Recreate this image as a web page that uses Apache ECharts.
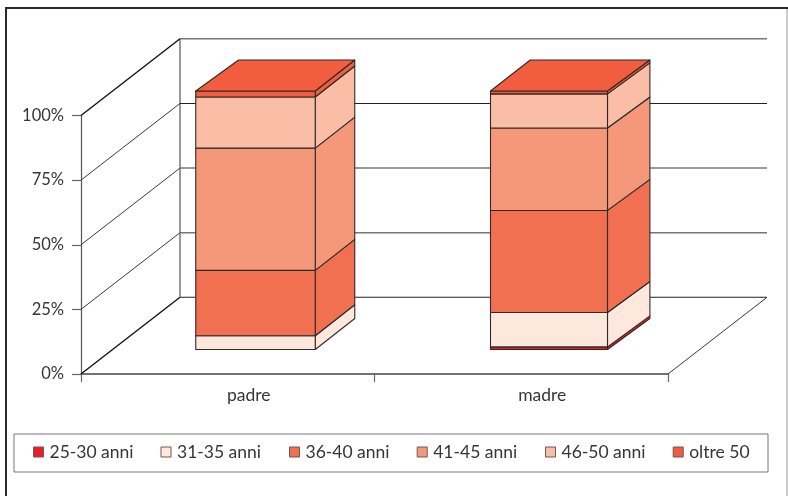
<!DOCTYPE html>
<html><head><meta charset="utf-8">
<style>html,body{margin:0;padding:0;background:#fff}#c{width:788px;height:496px}</style>
<script src="https://cdn.jsdelivr.net/npm/echarts@6/dist/echarts.min.js"></script>
</head><body><div id="c"></div>
<script>
const categories = ['padre', 'madre'];
const yTicks = [0, 25, 50, 75, 100];
const seriesNames = ['25-30 anni', '31-35 anni', '36-40 anni', '41-45 anni', '46-50 anni', 'oltre 50'];
const anni25_30 = [0, 1.0];
const anni31_35 = [5.3, 13.3];
const anni36_40 = [25.3, 39.5];
const anni41_45 = [47.3, 31.9];
const anni46_50 = [19.8, 13.2];
const oltre50 = [2.3, 1.1];
const seriesValues = [anni25_30, anni31_35, anni36_40, anni41_45, anni46_50, oltre50];
const colors = ['#ED1C24', '#FEE8DE', '#F27052', '#F59879', '#FABDA6', '#F25C3F'];

// 3D projection styling
const WALL_DX = 99, WALL_DY = -76.7;
const BAR_SHIFT_X = 27.75, BAR_SHIFT_Y = -24.5, BAR_DY = -31;
const barFrontW = [119.5, 117], barDxL = [42.8, 39.7], barDxR = [39.5, 42.4];
const legendLeft = [33, 160.5, 289, 416.7, 545, 672.7];
const EDGE = '#2e2a28';
const TEXT = '#363636';
const FONT = 'Lato';

function wallRender(params, api) {
  const v = api.value(0);
  const p0 = api.coord([0, v]);
  const size = api.size([1, 0])[0];
  const xL = p0[0] - size / 2, xR = xL + size * 2, y = p0[1];
  const dark = v === 0 || v === 75;
  const strong = v === 0 || v === 100;
  const kids = [
    { type: 'line', shape: { x1: xL, y1: y, x2: xL + WALL_DX, y2: y + WALL_DY },
      style: { stroke: strong ? '#111' : '#3a3a3a', lineWidth: strong ? 1.4 : 1 } },
    { type: 'line', shape: { x1: xL + WALL_DX, y1: y + WALL_DY, x2: xR + WALL_DX, y2: y + WALL_DY },
      style: { stroke: dark ? '#222' : '#777', lineWidth: dark ? 1.1 : 1.5 } }
  ];
  if (v === 0) {
    const top = api.coord([0, 100])[1];
    kids.push({ type: 'line', shape: { x1: xL + WALL_DX, y1: y + WALL_DY, x2: xL + WALL_DX, y2: top + WALL_DY },
      style: { stroke: '#777', lineWidth: 1.5 } });
    kids.push({ type: 'line', shape: { x1: xR, y1: y, x2: xR + WALL_DX, y2: y + WALL_DY },
      style: { stroke: '#3a3a3a', lineWidth: 1 } });
  }
  return { type: 'group', children: kids };
}

function segmentRender(sIdx) {
  return function (params, api) {
    const cat = api.value(0), from = api.value(1), to = api.value(2);
    if (to <= from) return null;
    const a = api.coord([cat, from]), b = api.coord([cat, to]);
    const w = barFrontW[cat];
    const xc = a[0] + BAR_SHIFT_X;
    const xl = xc - w / 2, xr = xc + w / 2;
    const y0 = a[1] + BAR_SHIFT_Y, y1 = b[1] + BAR_SHIFT_Y;
    const dxR = barDxR[cat], dxL = barDxL[cat];
    const style = { fill: colors[sIdx], stroke: EDGE, lineWidth: 1.1, lineJoin: 'round' };
    const kids = [
      { type: 'polygon', shape: { points: [[xr, y0], [xr + dxR, y0 + BAR_DY], [xr + dxR, y1 + BAR_DY], [xr, y1]] }, style },
      { type: 'rect', shape: { x: xl, y: y1, width: w, height: y0 - y1 }, style }
    ];
    if (sIdx === seriesValues.length - 1) {
      kids.push({ type: 'polygon', shape: { points: [[xl, y1], [xr, y1], [xr + dxR, y1 + BAR_DY], [xl + dxL, y1 + BAR_DY]] }, style });
    }
    return { type: 'group', children: kids };
  };
}

const barSeries = seriesNames.map(function (name, s) {
  const data = categories.map(function (c, i) {
    let from = 0;
    for (let k = 0; k < s; k++) from += seriesValues[k][i];
    return [i, from, from + seriesValues[s][i]];
  });
  return { type: 'custom', name, z: 5 + s, clip: false, data, encode: { x: 0, y: [1, 2] },
    itemStyle: { color: colors[s] }, renderItem: segmentRender(s) };
});

const chart = echarts.init(document.getElementById('c'), null, { renderer: 'canvas' });
chart.setOption({
  animation: false,
  backgroundColor: '#fff',
  textStyle: { fontFamily: FONT },
  grid: { left: 81, top: 115.5, width: 587, height: 258.5 },
  xAxis: { type: 'category', data: categories,
    axisLine: { lineStyle: { color: '#444', width: 1.5 } },
    axisTick: { show: true, alignWithLabel: false, length: 8, lineStyle: { color: '#666', width: 1.2 } },
    axisLabel: { color: TEXT, fontFamily: FONT, fontSize: 17.5, margin: 12, padding: [0, 0, 0, 42] } },
  yAxis: { type: 'value', min: 0, max: 100, interval: 25,
    splitLine: { show: false },
    axisLine: { show: true, lineStyle: { color: '#555', width: 1.2 } },
    axisTick: { show: true, length: 9, lineStyle: { color: '#666', width: 1.2 } },
    axisLabel: { color: TEXT, fontFamily: FONT, fontSize: 16.5, margin: 17, padding: [5, 0, 0, 0], formatter: '{value}%' } },
  legend: seriesNames.map(function (name, i) {
    return { left: legendLeft[i], top: 443, padding: 0, itemWidth: 10, itemHeight: 10,
      icon: 'rect', data: [name], selectedMode: false,
      itemStyle: { borderColor: '#6a5a54', borderWidth: 1 },
      textStyle: { color: TEXT, fontFamily: FONT, fontSize: 17.5, padding: [0, 0, 0, 1] } };
  }),
  graphic: [
    { type: 'rect', silent: true, z: 0, shape: { x: 14, y: 434, width: 754, height: 38 },
      style: { fill: '#fff', stroke: '#777', lineWidth: 1 } },
    { type: 'line', silent: true, shape: { x1: 5, y1: 8, x2: 788, y2: 8 }, style: { stroke: '#2a2a2a', lineWidth: 2 } },
    { type: 'line', silent: true, shape: { x1: 6, y1: 7, x2: 6, y2: 496 }, style: { stroke: '#2a2a2a', lineWidth: 2 } },
    { type: 'line', silent: true, shape: { x1: 787, y1: 9, x2: 787, y2: 496 }, style: { stroke: '#999', lineWidth: 1 } }
  ],
  series: [{ type: 'custom', name: 'griglia', z: 1, clip: false, silent: true,
    data: yTicks.map(function (v) { return [v]; }), encode: { y: 0 }, renderItem: wallRender }].concat(barSeries)
});
</script></body></html>
